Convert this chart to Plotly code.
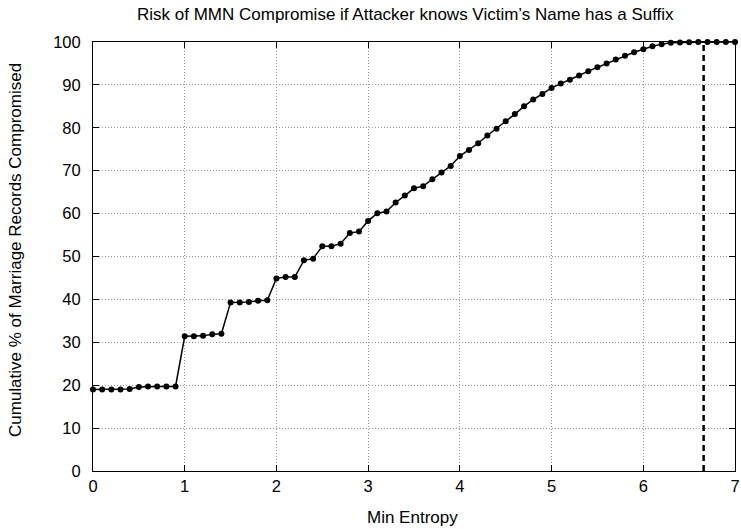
import plotly.graph_objects as go

x_entropy = [round(i * 0.1, 1) for i in range(71)]
y_cum = [
    19.0, 19.0, 19.0, 19.0, 19.1, 19.6, 19.7, 19.7, 19.7, 19.7,
    31.4, 31.4, 31.5, 31.9, 32.0, 39.3, 39.3, 39.4, 39.7, 39.8,
    44.9, 45.2, 45.2, 49.1, 49.5, 52.4, 52.4, 53.0, 55.5, 55.8,
    58.3, 60.1, 60.5, 62.6, 64.2, 65.9, 66.4, 68.0, 69.6, 71.1,
    73.4, 74.8, 76.4, 78.2, 79.8, 81.5, 83.2, 85.0, 86.6, 87.9,
    89.3, 90.3, 91.2, 92.2, 93.2, 94.1, 95.0, 95.9, 96.8, 97.6,
    98.3, 99.0, 99.5, 99.8, 99.9, 99.95, 100.0, 100.0, 100.0, 100.0,
    100.0,
]
max_entropy = 6.658
x_ticks = [0, 1, 2, 3, 4, 5, 6, 7]
y_ticks = [0, 10, 20, 30, 40, 50, 60, 70, 80, 90, 100]

FONT = "Liberation Sans, Arial, sans-serif"

fig = go.Figure()
fig.add_trace(go.Scatter(
    x=x_entropy, y=y_cum, mode="lines+markers",
    line=dict(color="black", width=1.5),
    marker=dict(color="black", size=6),
    showlegend=False, cliponaxis=False,
))
fig.add_trace(go.Scatter(
    x=[max_entropy, max_entropy], y=[0, 100], mode="lines",
    line=dict(color="black", width=2.5, dash="6px,4px"),
    showlegend=False,
))

axis_common = dict(
    showline=True, linecolor="black", linewidth=1, mirror="allticks",
    ticks="inside", ticklen=6, tickcolor="black",
    showgrid=True, gridcolor="#999999", griddash="1px,2px", gridwidth=1,
    zeroline=False, tickfont=dict(family=FONT, size=16.5, color="black"),
    ticklabeloverflow="allow",
)
fig.update_xaxes(range=[0, 7], tickvals=x_ticks, **axis_common)
fig.update_yaxes(range=[0, 100], tickvals=y_ticks, ticklabelstandoff=8, **axis_common)

fig.update_layout(
    width=741, height=529,
    margin=dict(l=93, r=1, t=42, b=58),
    plot_bgcolor="white", paper_bgcolor="white",
    font=dict(family=FONT, color="black"),
    annotations=[
        dict(text="Risk of MMN Compromise if Attacker knows Victim\u2019s Name has a Suffix",
             xref="paper", yref="paper", x=(408 - 93) / 647, y=1, yshift=28,
             showarrow=False, font=dict(size=17), xanchor="center", yanchor="middle"),
        dict(text="Min Entropy", xref="paper", yref="paper", x=(415 - 93) / 647, y=0, yshift=-46,
             showarrow=False, font=dict(size=17), xanchor="center", yanchor="middle"),
        dict(text="Cumulative % of Marriage Records Compromised", xref="paper", yref="paper",
             x=0, xshift=-78, y=(471 - 250) / 429, textangle=-90,
             showarrow=False, font=dict(size=17), xanchor="center", yanchor="middle"),
    ],
)

fig.write_html("out.html")
